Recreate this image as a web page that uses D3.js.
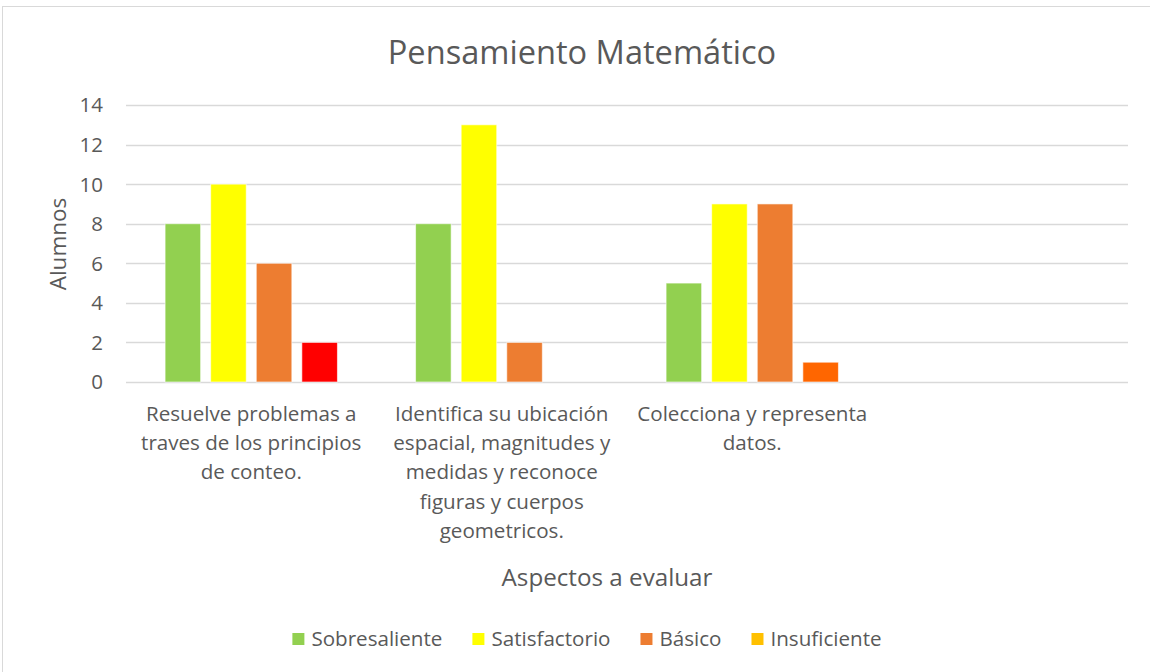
<!DOCTYPE html>
<html>
<head>
<meta charset="utf-8">
<script src="https://cdn.jsdelivr.net/npm/d3@7"></script>
<style>
  body { margin: 0; background: #fff; }
  text { font-family: "Open Sans", "Noto Sans", sans-serif; fill: #595959; }
</style>
</head>
<body>
<script>
// chart data
var categories = ['c1', 'c2', 'c3', 'c4'];
var categoryLines = [
  ['Resuelve problemas a', 'traves de los principios', 'de conteo.'],
  ['Identifica su ubicación', 'espacial, magnitudes y', 'medidas y reconoce', 'figuras y cuerpos', 'geometricos.'],
  ['Colecciona y representa', 'datos.'],
  []
];
var seriesNames = ['Sobresaliente', 'Satisfactorio', 'Básico', 'Insuficiente'];
var sobresaliente = [8, 8, 5, null];
var satisfactorio = [10, 13, 9, null];
var basico = [6, 2, 9, null];
var insuficiente = [2, null, 1, null];
var yTicks = [0, 2, 4, 6, 8, 10, 12, 14];

var seriesColors = ['#92D050', '#FFFF00', '#ED7D31', '#FFC000'];
// individual points were recoloured in the original sheet
var insufPointColors = ['#FF0000', null, '#FF6600', null];

var width = 1150, height = 672;
var margin = { left: 126, right: 22, top: 105, bottom: 290 };

var svg = d3.select('body')
  .append('svg')
  .attr('width', width)
  .attr('height', height);

// outer chart border
svg.append('rect')
  .attr('x', 2.5).attr('y', 6.5)
  .attr('width', 1170).attr('height', 700)
  .attr('fill', 'none')
  .attr('stroke', '#d9d9d9');

var x0 = d3.scaleBand()
  .domain(categories)
  .range([margin.left, width - margin.right]);

var gap = x0.bandwidth() * 0.156;
var x1 = d3.scaleBand()
  .domain(seriesNames)
  .range([gap, x0.bandwidth() - gap])
  .paddingInner(0.22);

var y = d3.scaleLinear()
  .domain([0, 14])
  .range([382, 105]);

// grid
svg.append('g')
  .selectAll('line')
  .data(yTicks)
  .join('line')
  .attr('x1', margin.left)
  .attr('x2', width - margin.right)
  .attr('y1', d => Math.round(y(d)) + 0.5)
  .attr('y2', d => Math.round(y(d)) + 0.5)
  .attr('stroke', '#d9d9d9')
  .attr('stroke-width', 1.3);

// y tick labels
svg.append('g')
  .selectAll('text')
  .data(yTicks)
  .join('text')
  .attr('x', 103)
  .attr('y', d => y(d))
  .attr('dy', '0.36em')
  .attr('text-anchor', 'end')
  .style('font-size', '20.5px')
  .text(d => d);

// bars
var seriesData = [sobresaliente, satisfactorio, basico, insuficiente];
var bars = [];
seriesData.forEach(function (vals, si) {
  vals.forEach(function (v, ci) {
    if (v == null) return;
    var c = seriesColors[si];
    if (si === 3 && insufPointColors[ci]) c = insufPointColors[ci];
    bars.push({ cat: categories[ci], series: seriesNames[si], value: v, color: c });
  });
});

svg.append('g')
  .selectAll('rect')
  .data(bars)
  .join('rect')
  .attr('x', d => x0(d.cat) + x1(d.series))
  .attr('y', d => y(d.value))
  .attr('width', x1.bandwidth())
  .attr('height', d => y(0) - y(d.value))
  .attr('fill', d => d.color)
  .attr('stroke', 'rgba(255,255,255,0.6)')
  .attr('stroke-width', 1);

// category labels
var catG = svg.append('g')
  .selectAll('text')
  .data(categories)
  .join('text')
  .attr('text-anchor', 'middle')
  .style('font-size', '20.6px');

catG.each(function (c, i) {
  var t = d3.select(this);
  categoryLines[i].forEach(function (line, li) {
    t.append('tspan')
      .attr('x', x0(c) + x0.bandwidth() / 2)
      .attr('y', 421 + li * 29.2)
      .text(line);
  });
});

// title
svg.append('text')
  .attr('x', 582)
  .attr('y', 64)
  .attr('text-anchor', 'middle')
  .style('font-size', '32.6px')
  .text('Pensamiento Matemático');

// axis titles
svg.append('text')
  .attr('transform', 'translate(66,244) rotate(-90)')
  .attr('text-anchor', 'middle')
  .style('font-size', '22.5px')
  .text('Alumnos');

svg.append('text')
  .attr('x', 607)
  .attr('y', 586)
  .attr('text-anchor', 'middle')
  .style('font-size', '24.2px')
  .text('Aspectos a evaluar');

// legend
var legend = svg.append('g');
var lx = 0;
seriesNames.forEach(function (name, i) {
  var g = legend.append('g').attr('transform', 'translate(' + lx + ',0)');
  g.append('rect')
    .attr('x', 0).attr('y', -6)
    .attr('width', 12).attr('height', 12)
    .attr('fill', seriesColors[i]);
  var t = g.append('text')
    .attr('x', 19)
    .attr('y', 0)
    .attr('dy', '0.36em')
    .style('font-size', '20.6px')
    .text(name);
  lx += 19 + t.node().getComputedTextLength() + 30;
});
var legendW = lx - 30;
legend.attr('transform', 'translate(' + (587 - legendW / 2) + ',639)');
</script>
</body>
</html>
